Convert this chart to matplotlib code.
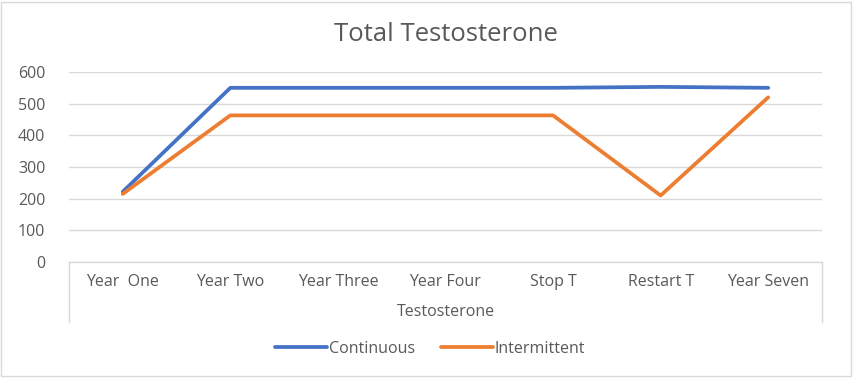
import matplotlib.pyplot as plt
from matplotlib.patches import Rectangle

categories = ['Year  One', 'Year Two', 'Year Three', 'Year Four', 'Stop T', 'Restart T', 'Year Seven']
continuous = [222, 550, 550, 550, 550, 553, 550]
intermittent = [215, 463, 463, 463, 463, 210, 520]

plt.rcParams['font.family'] = ['Open Sans', 'DejaVu Sans']
txt = '#595959'
grid = '#D9D9D9'

fig = plt.figure(figsize=(8.54, 3.8), dpi=100)
ax = fig.add_axes([69/854, 118/380, 753/854, 190/380])

x = list(range(len(categories)))
ax.plot(x, continuous, color='#4472C4', lw=2.7, label='Continuous', solid_capstyle='round', zorder=3)
ax.plot(x, intermittent, color='#ED7D31', lw=2.7, label='Intermittent', solid_capstyle='round', zorder=3)

ax.set_xlim(-0.5, len(categories) - 0.5)
ax.set_ylim(0, 600)
ax.set_yticks(range(0, 601, 100))
ax.yaxis.grid(True, color=grid, lw=1)
ax.set_axisbelow(True)
for s in ['top', 'right', 'left']:
    ax.spines[s].set_visible(False)
ax.spines['bottom'].set_color(grid)
ax.spines['bottom'].set_linewidth(1)
ax.tick_params(axis='y', length=0, pad=17, labelsize=11.5, labelcolor=txt)
ax.tick_params(axis='x', length=0, pad=9, labelsize=11.5, labelcolor=txt)
ax.set_xticks(x)
ax.set_xticklabels(categories)

# category group box
depth = -60/190
for xx in [0, 1]:
    ax.plot([xx, xx], [0, depth], transform=ax.transAxes, color=grid, lw=1, clip_on=False)
ax.text(0.5, -50/190, 'Testosterone', transform=ax.transAxes, ha='center', va='center',
        fontsize=11.5, color=txt)

ax.set_title('Total Testosterone', fontsize=18.5, color=txt, pad=22)

fig.legend(loc='center', bbox_to_anchor=(430/854, 1 - 349/380), ncol=2, frameon=False,
           fontsize=11.5, labelcolor=txt, handlelength=3.3, handletextpad=0.1, columnspacing=1.6)

fig.add_artist(Rectangle((1/854, 4/380), 850/854, 374/380, transform=fig.transFigure,
                         fill=False, edgecolor=grid, lw=1))

fig.savefig('out.png', dpi=100)
